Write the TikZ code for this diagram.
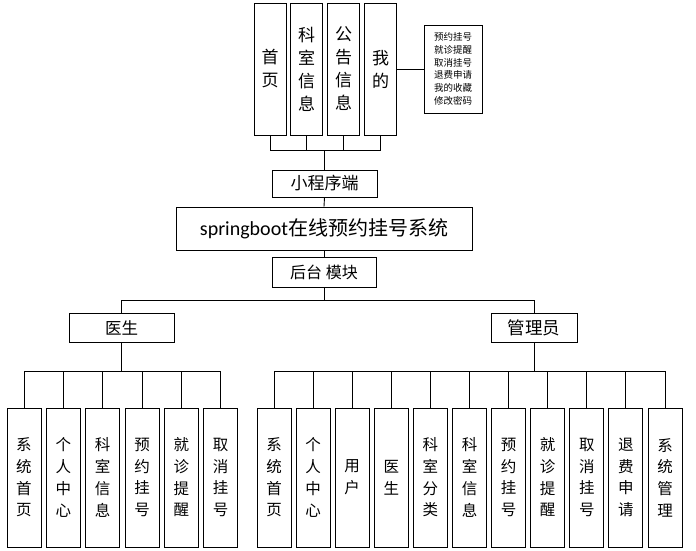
\documentclass[tikz,border=0pt]{standalone}
\usepackage{fontspec}
\setmainfont{Noto Sans CJK SC}
\newfontfamily\latinfont{Carlito}
\tikzset{
  box/.style={draw, line width=0.9pt, inner sep=0pt, align=center},
  tallbox/.style={box, minimum width=32pt, minimum height=132pt, font=\fontsize{17}{23}\selectfont},
  leaf/.style={box, minimum width=34pt, minimum height=139pt, font=\fontsize{15.5}{21.7}\selectfont},
  conn/.style={line width=0.9pt},
}
\begin{document}
\begin{tikzpicture}[x=1pt, y=-1pt]
\useasboundingbox (0,0) rectangle (696,551);

% Menü oben
\node[tallbox] (shouye) at (270,69) {首\\页};
\node[tallbox] (keshi) at (306.5,69) {科\\室\\信\\息};
\node[tallbox] (gonggao) at (343.5,69) {公\\告\\信\\息};
\node[tallbox] (wode) at (380.5,69) {我\\的};
\node[box, minimum width=58pt, minimum height=88pt, font=\fontsize{9.5}{12.7}\selectfont] (wodelist) at (453,69)
  {预约挂号\\就诊提醒\\取消挂号\\退费申请\\我的收藏\\修改密码};

% Mitte
\node[box, minimum width=105pt, minimum height=27pt, font=\fontsize{17}{20}\selectfont] (xcx) at (324.5,183.5) {小程序端};
\node[box, minimum width=296pt, minimum height=43pt, font=\fontsize{20}{24}\selectfont] (sys) at (324,228.5) {{\latinfont springboot}在线预约挂号系统};
\node[box, minimum width=104pt, minimum height=30pt, font=\fontsize{16}{20}\selectfont] (houtai) at (324,272) {后台 模块};

% Rollen
\node[box, minimum width=105pt, minimum height=29pt, font=\fontsize{16.5}{20}\selectfont] (yisheng) at (121.5,327.5) {医生};
\node[box, minimum width=86pt, minimum height=29pt, font=\fontsize{17.5}{20}\selectfont] (guanli) at (534,327.5) {管理员};

% Module Arzt
\node[leaf] (d1) at (24,477.5) {系\\统\\首\\页};
\node[leaf] (d2) at (63.3,477.5) {个\\人\\中\\心};
\node[leaf] (d3) at (102.6,477.5) {科\\室\\信\\息};
\node[leaf] (d4) at (142,477.5) {预\\约\\挂\\号};
\node[leaf] (d5) at (181.3,477.5) {就\\诊\\提\\醒};
\node[leaf] (d6) at (220.6,477.5) {取\\消\\挂\\号};

% Module Admin
\node[leaf] (a1) at (274,477.5) {系\\统\\首\\页};
\node[leaf] (a2) at (313.1,477.5) {个\\人\\中\\心};
\node[leaf] (a3) at (352.2,477.5) {用\\户};
\node[leaf] (a4) at (391.3,477.5) {医\\生};
\node[leaf] (a5) at (430.4,477.5) {科\\室\\分\\类};
\node[leaf] (a6) at (469.5,477.5) {科\\室\\信\\息};
\node[leaf] (a7) at (508.6,477.5) {预\\约\\挂\\号};
\node[leaf] (a8) at (547.7,477.5) {就\\诊\\提\\醒};
\node[leaf] (a9) at (586.8,477.5) {取\\消\\挂\\号};
\node[leaf] (a10) at (625.9,477.5) {退\\费\\申\\请};
\node[leaf] (a11) at (665,477.5) {系\\统\\管\\理};

% Sammelpunkte
\coordinate (topbus) at (324.5,150);
\coordinate (midbus) at (324,300);
\coordinate (dbus) at (121.5,371);
\coordinate (abus) at (534,371);

% Verbindungen oben
\foreach \n in {shouye,keshi,gonggao,wode}
  \draw[conn] (\n.south) |- (topbus);
\draw[conn] (topbus) -- (xcx.north);
\draw[conn] (wode.east) -- (wodelist.west);
\draw[conn] (xcx.south) -- (sys.north);
\draw[conn] (sys.south) -- (houtai.north);

% Verbindungen unten
\draw[conn] (houtai.south) -- (midbus);
\draw[conn] (midbus) -| (yisheng.north);
\draw[conn] (midbus) -| (guanli.north);
\draw[conn] (yisheng.south) -- (dbus);
\draw[conn] (guanli.south) -- (abus);
\foreach \n in {d1,d2,d3,d4,d5,d6}
  \draw[conn] (dbus) -| (\n.north);
\foreach \n in {a1,a2,a3,a4,a5,a6,a7,a8,a9,a10,a11}
  \draw[conn] (abus) -| (\n.north);

\end{tikzpicture}
\end{document}
